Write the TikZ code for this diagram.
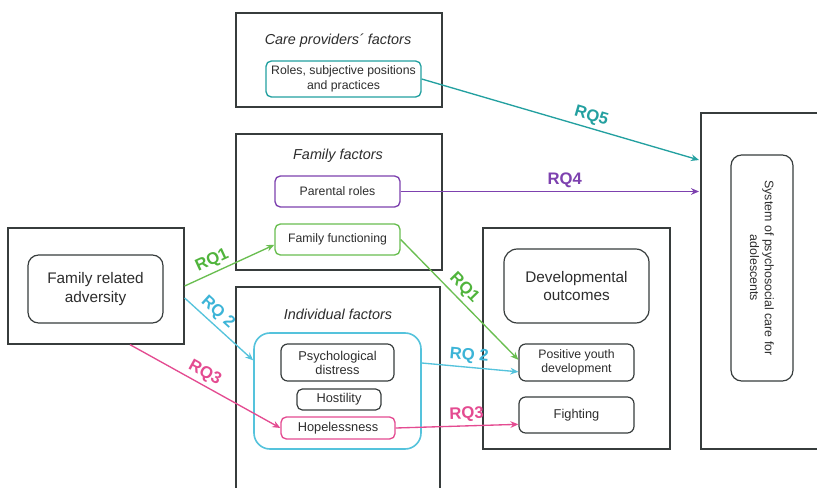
\documentclass[tikz,border=0pt]{standalone}
\usepackage{fontspec}
\setmainfont{Liberation Sans}
\usetikzlibrary{fit,arrows.meta,calc}
\definecolor{bordc}{RGB}{55,60,60}
\definecolor{txtc}{RGB}{45,45,45}
\definecolor{cgreen}{RGB}{105,190,80}
\definecolor{lgreen}{RGB}{80,180,60}
\definecolor{cteal}{RGB}{35,160,160}
\definecolor{cpurple}{RGB}{125,65,175}
\definecolor{ccyan}{RGB}{85,195,220}
\definecolor{lcyan}{RGB}{60,180,215}
\definecolor{cpink}{RGB}{228,75,145}
\tikzset{
  outerbox/.style={draw=bordc, line width=1pt, inner sep=0pt},
  inbox/.style={draw=bordc, line width=0.9pt, rounded corners=4pt, inner sep=0pt, align=center,
     text=txtc, font=\fontsize{9.2}{10.8}\selectfont},
  bigbox/.style={inbox, rounded corners=8pt, font=\fontsize{11.5}{14}\selectfont},
  hdr/.style={text=txtc, font=\itshape\fontsize{10.8}{13}\selectfont},
  arr/.style={line width=1pt, -{Stealth[length=6pt,width=5pt]}},
  lab/.style={font=\bfseries\fontsize{12.5}{14}\selectfont, sloped, above=2pt, inner sep=0.5pt}
}
\begin{document}
\begin{tikzpicture}[x=0.75pt,y=-0.75pt]
\clip (0,0) rectangle (817,488);
\fill[white] (0,0) rectangle (817,488);

% outer boxes
\node[outerbox, fit={(236,13) (442,107)}] (careout) {};
\node[outerbox, fit={(236,134) (442,270)}] (famout) {};
\node[outerbox, fit={(8,228) (184,344)}] (advout) {};
\node[outerbox, fit={(236,287) (440,500)}] (indout) {};
\node[outerbox, fit={(483,228) (670,449)}] (devout) {};
\node[outerbox, fit={(701,113) (840,449)}] (sysout) {};

% headers
\node[hdr] (carehdr) at (338,41) {Care providers´ factors};
\node[hdr] (famhdr) at (338,156) {Family factors};
\node[hdr] (indhdr) at (338,314) {Individual factors};

% inner boxes
\node[inbox, draw=cteal, line width=1pt, minimum width=116.25pt, minimum height=27pt] (roles) at (343.5,79) {Roles, subjective positions\\and practices};
\node[inbox, draw=cpurple, line width=1pt, minimum width=93.75pt, minimum height=23.25pt] (par) at (337.5,191.5) {Parental roles};
\node[inbox, draw=cgreen, line width=1pt, minimum width=93.75pt, minimum height=23.25pt] (ff) at (337.5,239.5) {Family functioning};
\node[bigbox, minimum width=101.25pt, minimum height=51pt] (adv) at (95.5,289) {Family related\\adversity};
\node[draw=ccyan, line width=1.2pt, rounded corners=12pt, inner sep=0pt, fit={(254,333) (421,449)}] (grp) {};
\node[inbox, rounded corners=5pt, font=\fontsize{9.6}{10.6}\selectfont, minimum width=84.75pt, minimum height=27.75pt] (psy) at (337.5,362.5) {Psychological\\distress};
\node[inbox, font=\fontsize{9.6}{10.6}\selectfont, minimum width=63pt, minimum height=15.75pt] (host) at (339,399.5) {Hostility};
\node[inbox, draw=cpink, line width=1pt, font=\fontsize{9.6}{10.6}\selectfont, minimum width=85.5pt, minimum height=16.5pt] (hope) at (338,428) {Hopelessness};
\node[bigbox, rounded corners=10pt, font=\fontsize{11.5}{13.8}\selectfont, minimum width=108.75pt, minimum height=55.5pt] (devo) at (576.5,286) {Developmental\\outcomes};
\node[inbox, rounded corners=5pt, minimum width=86.25pt, minimum height=27.75pt] (pyd) at (576.5,362.5) {Positive youth\\development};
\node[inbox, rounded corners=5pt, font=\fontsize{9.6}{10.6}\selectfont, minimum width=86.25pt, minimum height=27pt] (fight) at (576.5,415) {Fighting};
\node[inbox, rounded corners=8pt, rotate=-90, minimum width=169.5pt, minimum height=46.5pt,
      font=\fontsize{9.3}{11}\selectfont] (sys) at (762,268) {System of psychosocial care for\\adolescents};

% connectors
\coordinate (rq5end) at (699,160);
\draw[arr, cteal] (roles.east) -- node[lab, pos=0.6] {RQ5} (rq5end);
\draw[arr, cpurple] (par.east) -- node[lab, pos=0.55] {RQ4} ([xshift=-1pt]par.east -| sysout.west);
\draw[arr, cgreen] (advout.east) -- node[lab, pos=0.36, text=lgreen] {RQ1} ([yshift=-4pt]ff.west);
\draw[arr, ccyan] ([yshift=-9pt]advout.east) -- node[lab, pos=0.37, text=lcyan] {RQ 2} ([yshift=23pt]grp.west);
\draw[arr, cpink] ([xshift=25.5pt]advout.south) -- node[lab, pos=0.46] {RQ3} (hope.west);
\draw[arr, cgreen] (ff.east) -- node[lab, pos=0.47, text=lgreen] {RQ1} ([yshift=2pt]pyd.west);
\draw[arr, ccyan] ([yshift=21pt]grp.east) -- node[lab, pos=0.48, text=lcyan] {RQ 2} ([yshift=-7pt]pyd.west);
\draw[arr, cpink] (hope.east) -- node[lab, pos=0.58] {RQ3} ([yshift=-7pt]fight.west);
\end{tikzpicture}
\end{document}
